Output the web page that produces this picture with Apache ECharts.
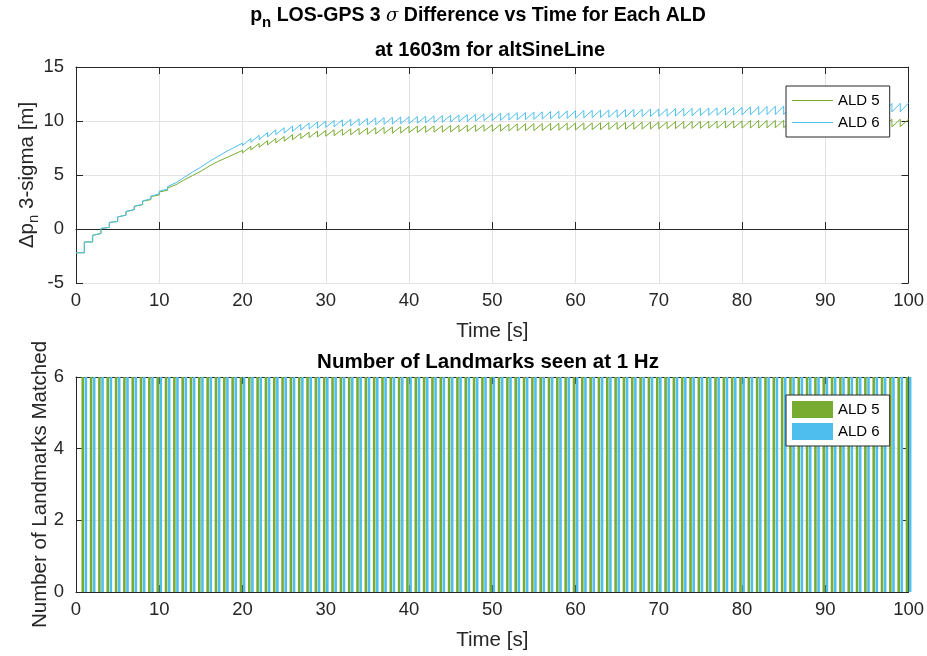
<!DOCTYPE html>
<html>
<head>
<meta charset="utf-8">
<title>pn LOS-GPS 3 sigma Difference vs Time</title>
<script src="https://cdn.jsdelivr.net/npm/echarts@6/dist/echarts.min.js"></script>
<style>
  html, body { margin: 0; padding: 0; background: #fff; }
  #chart { width: 927px; height: 656px; }
</style>
</head>
<body>
<div id="chart"></div>
<script>
// 3-sigma difference per second: value right after the 1 Hz update (low) and just before the next one (high)
var ald5Low = [-2.2,-1.2,-0.58,0.05,0.6,1.12,1.63,2.1,2.57,3.0,
  3.43,3.8,4.25,4.65,5.05,5.38,5.78,6.13,6.48,6.83,
  7.05,7.32,7.57,7.78,7.97,8.13,8.26,8.37,8.46,8.53,
  8.59,8.64,8.68,8.72,8.75,8.78,8.81,8.84,8.87,8.9,
  8.92,8.94,8.95,8.97,8.98,9.0,9.01,9.03,9.04,9.06,
  9.05,9.06,9.08,9.09,9.1,9.11,9.12,9.14,9.15,9.16,
  9.17,9.18,9.19,9.2,9.21,9.22,9.23,9.24,9.25,9.26,
  9.27,9.28,9.29,9.3,9.31,9.32,9.33,9.34,9.35,9.36,
  9.34,9.35,9.35,9.36,9.37,9.38,9.39,9.39,9.4,9.41,
  9.42,9.42,9.43,9.43,9.44,9.45,9.45,9.46,9.46,9.47];
var ald5High = [-2.2,-1.2,-0.42,0.15,0.7,1.28,1.78,2.25,2.72,3.15,
  3.58,4.1,4.55,4.95,5.35,5.83,6.23,6.58,6.93,7.28,
  7.65,7.92,8.17,8.38,8.57,8.73,8.86,8.97,9.06,9.13,
  9.19,9.24,9.28,9.32,9.35,9.38,9.41,9.44,9.47,9.5,
  9.52,9.54,9.55,9.57,9.58,9.6,9.61,9.63,9.64,9.66,
  9.7,9.71,9.73,9.74,9.75,9.76,9.77,9.79,9.8,9.81,
  9.82,9.83,9.84,9.85,9.86,9.87,9.88,9.89,9.9,9.91,
  9.92,9.93,9.94,9.95,9.96,9.97,9.98,9.99,10.0,10.01,
  10.04,10.05,10.05,10.06,10.07,10.08,10.09,10.09,10.1,10.11,
  10.12,10.12,10.13,10.13,10.14,10.15,10.15,10.16,10.16,10.17];
var ald6Low = [-2.2,-1.2,-0.58,0.05,0.6,1.12,1.6,2.1,2.6,3.05,
  3.5,3.93,4.43,4.93,5.38,5.75,6.2,6.65,7.05,7.45,
  7.73,8.03,8.28,8.53,8.73,8.88,9.03,9.16,9.26,9.34,
  9.4,9.46,9.51,9.55,9.59,9.63,9.66,9.69,9.72,9.74,
  9.76,9.79,9.82,9.85,9.88,9.91,9.94,9.97,10.0,10.03,
  10.03,10.05,10.08,10.1,10.13,10.15,10.18,10.2,10.23,10.25,
  10.28,10.29,10.31,10.32,10.34,10.35,10.37,10.38,10.4,10.41,
  10.43,10.44,10.46,10.47,10.49,10.5,10.52,10.53,10.55,10.56,
  10.56,10.57,10.58,10.59,10.6,10.61,10.62,10.63,10.65,10.66,
  10.68,10.7,10.72,10.74,10.76,10.78,10.8,10.82,10.84,10.86];
var ald6High = [-2.2,-1.2,-0.42,0.15,0.7,1.28,1.8,2.3,2.8,3.25,
  3.7,4.28,4.78,5.28,5.73,6.25,6.7,7.15,7.55,7.95,
  8.38,8.68,8.93,9.18,9.38,9.53,9.68,9.81,9.91,9.99,
  10.05,10.11,10.16,10.2,10.24,10.28,10.31,10.34,10.37,10.39,
  10.41,10.44,10.47,10.5,10.53,10.56,10.59,10.62,10.65,10.68,
  10.73,10.75,10.78,10.8,10.83,10.85,10.88,10.9,10.93,10.95,
  10.98,10.99,11.01,11.02,11.04,11.05,11.07,11.08,11.1,11.11,
  11.13,11.14,11.16,11.17,11.19,11.2,11.22,11.23,11.25,11.26,
  11.3,11.32,11.35,11.37,11.39,11.4,11.42,11.43,11.45,11.46,
  11.48,11.5,11.52,11.54,11.56,11.58,11.6,11.62,11.64,11.66];

// landmarks matched at each 1 Hz update
var matchTimes = [1,2,3,4,5,6,7,8,9,10,11,12,13,14,15,16,17,18,19,20,
  21,22,23,24,25,26,27,28,29,30,31,32,33,34,35,36,37,38,39,40,
  41,42,43,44,45,46,47,48,49,50,51,52,53,54,55,56,57,58,59,60,
  61,62,63,64,65,66,67,68,69,70,71,72,73,74,75,76,77,78,79,80,
  81,82,83,84,85,86,87,88,89,90,91,92,93,94,95,96,97,98,99,100];
var ald5Matched = [6,6,6,6,6,6,6,6,6,6,6,6,6,6,6,6,6,6,6,6,
  6,6,6,6,6,6,6,6,6,6,6,6,6,6,6,6,6,6,6,6,
  6,6,6,6,6,6,6,6,6,6,6,6,6,6,6,6,6,6,6,6,
  6,6,6,6,6,6,6,6,6,6,6,6,6,6,6,6,6,6,6,6,
  6,6,6,6,6,6,6,6,6,6,6,6,6,6,6,6,6,6,6,6];
var ald6Matched = [6,6,6,6,6,6,6,6,6,6,6,6,6,6,6,6,6,6,6,6,
  6,6,6,6,6,6,6,6,6,6,6,6,6,6,6,6,6,6,6,6,
  6,6,6,6,6,6,6,6,6,6,6,6,6,6,6,6,6,6,6,6,
  6,6,6,6,6,6,6,6,6,6,6,6,6,6,6,6,6,6,6,6,
  6,6,6,6,6,6,6,6,6,6,6,6,6,6,6,6,6,6,6,6];

var green = '#77AC30';
var blue = '#4DBEEE';
var ink = '#262626';
var font = '"Liberation Sans", Arial, Helvetica, sans-serif';
var lineIcon = 'path://M0,0h41v1h-41z';

// each second: ramp from low to high, then jump at the next update
function sawtooth(low, high) {
  var pts = [];
  for (var i = 0; i < low.length; i++) {
    pts.push([i, low[i]], [i + 1, high[i]]);
  }
  return pts;
}

function pairs(xs, ys) {
  return xs.map(function (x, i) { return [x, ys[i]]; });
}

function mainX(grid, name) {
  return {
    gridIndex: grid, type: 'value', min: 0, max: 100, interval: 10, position: 'bottom',
    axisLine: { show: true, lineStyle: { color: ink, width: 1 } },
    axisTick: { inside: true, length: 7, lineStyle: { color: ink } },
    axisLabel: { fontSize: 18.5, color: ink, margin: 8, fontFamily: font },
    splitLine: { show: true, lineStyle: { color: '#e3e3e3' } },
    name: name, nameLocation: 'middle', nameGap: 38,
    nameTextStyle: { fontSize: 20.5, color: ink, fontFamily: font }
  };
}
function mirrorX(grid) {
  return {
    gridIndex: grid, type: 'value', min: 0, max: 100, interval: 10, position: 'top',
    axisLine: { show: true, onZero: false, lineStyle: { color: ink } },
    axisTick: { inside: true, length: 7, lineStyle: { color: ink } },
    axisLabel: { show: false }, splitLine: { show: false }
  };
}
function mirrorY(grid, min, max, step) {
  return {
    gridIndex: grid, type: 'value', min: min, max: max, interval: step, position: 'right',
    axisLine: { show: true, onZero: false, lineStyle: { color: ink } },
    axisTick: { inside: true, length: 7, lineStyle: { color: ink } },
    axisLabel: { show: false }, splitLine: { show: false }
  };
}

var chart = echarts.init(document.getElementById('chart'));
chart.setOption({
  animation: false,
  backgroundColor: '#fff',
  textStyle: { fontFamily: font },
  graphic: [
    {
      type: 'text', x: 478, y: 16,
      style: {
        text: '{b|p}{sub|n}{b| LOS-GPS 3 }{sig|σ}{b| Difference vs Time for Each ALD}',
        align: 'center', verticalAlign: 'middle', fill: '#000',
        rich: {
          b: { fontSize: 19.5, fontWeight: 'bold', fontFamily: font, fill: '#000' },
          sub: { fontSize: 15, fontWeight: 'bold', fontFamily: font, fill: '#000', padding: [14, 0, 0, 0] },
          sig: { fontSize: 18, fontStyle: 'italic', fontFamily: '"DejaVu Serif", serif', fill: '#000' }
        }
      }
    },
    {
      type: 'text', x: 490, y: 50,
      style: { text: 'at 1603m for altSineLine', align: 'center', verticalAlign: 'middle',
        fontSize: 20, fontWeight: 'bold', fontFamily: font, fill: '#000' }
    },
    {
      type: 'text', x: 488, y: 362,
      style: { text: 'Number of Landmarks seen at 1 Hz', align: 'center', verticalAlign: 'middle',
        fontSize: 20.5, fontWeight: 'bold', fontFamily: font, fill: '#000' }
    }
  ],
  grid: [
    { left: 76, top: 67, width: 833, height: 216 },
    { left: 76, top: 377, width: 833, height: 215 }
  ],
  legend: [
    {
      left: 786, top: 86, orient: 'vertical',
      data: [{ name: 'ALD 5', icon: lineIcon }, { name: 'ALD 6', icon: lineIcon }],
      itemWidth: 41, itemHeight: 14, itemGap: 7,
      padding: [7, 10, 7, 6],
      backgroundColor: '#fff', borderColor: ink, borderWidth: 1, borderRadius: 0,
      textStyle: { fontSize: 15, color: '#000', fontFamily: font }
    },
    {
      left: 786, top: 395, orient: 'vertical',
      data: [{ name: 'ALD 5', icon: 'rect' }, { name: 'ALD 6', icon: 'rect' }],
      itemWidth: 41, itemHeight: 17, itemGap: 5,
      padding: [6, 10, 6, 6],
      backgroundColor: '#fff', borderColor: ink, borderWidth: 1, borderRadius: 0,
      textStyle: { fontSize: 15, color: '#000', fontFamily: font }
    }
  ],
  xAxis: [mainX(0, 'Time [s]'), mirrorX(0), mainX(1, 'Time [s]'), mirrorX(1)],
  yAxis: [
    {
      gridIndex: 0, type: 'value', min: -5, max: 15, interval: 5, position: 'left',
      axisLine: { show: true, onZero: false, lineStyle: { color: ink } },
      axisTick: { inside: true, length: 7, lineStyle: { color: ink } },
      axisLabel: { fontSize: 18.5, color: ink, margin: 12, fontFamily: font },
      splitLine: { show: true, lineStyle: { color: '#e3e3e3' } },
      name: '{a|Δp}{s|n}{a| 3-sigma [m]}', nameLocation: 'middle', nameGap: 35,
      nameMoveOverlap: false,
      nameTextStyle: {
        color: ink, fontFamily: font,
        rich: {
          a: { fontSize: 20.5, color: ink, fontFamily: font },
          s: { fontSize: 15, color: ink, fontFamily: font, padding: [13, 0, 0, 0] }
        }
      }
    },
    mirrorY(0, -5, 15, 5),
    {
      gridIndex: 1, type: 'value', min: 0, max: 6, interval: 2, position: 'left',
      axisLine: { show: true, onZero: false, lineStyle: { color: ink } },
      axisTick: { inside: true, length: 7, lineStyle: { color: ink } },
      axisLabel: { fontSize: 18.5, color: ink, margin: 12, fontFamily: font },
      splitLine: { show: true, lineStyle: { color: '#e3e3e3' } },
      name: 'Number of Landmarks Matched', nameLocation: 'middle', nameGap: 25,
      nameMoveOverlap: false,
      nameTextStyle: { fontSize: 20.5, color: ink, fontFamily: font }
    },
    mirrorY(1, 0, 6, 2)
  ],
  series: [
    {
      name: 'ALD 5', type: 'line', xAxisIndex: 0, yAxisIndex: 0,
      data: sawtooth(ald5Low, ald5High), showSymbol: false, symbol: 'none',
      color: green, lineStyle: { color: green, width: 1 }
    },
    {
      name: 'ALD 6', type: 'line', xAxisIndex: 0, yAxisIndex: 0,
      data: sawtooth(ald6Low, ald6High), showSymbol: false, symbol: 'none',
      color: blue, lineStyle: { color: blue, width: 1 }
    },
    {
      name: 'ALD 5', type: 'bar', xAxisIndex: 2, yAxisIndex: 2, clip: true,
      data: pairs(matchTimes, ald5Matched), barWidth: 2.6, barGap: '20%',
      itemStyle: { color: green }
    },
    {
      name: 'ALD 6', type: 'bar', xAxisIndex: 2, yAxisIndex: 2, clip: true,
      data: pairs(matchTimes, ald6Matched), barWidth: 2.6, barGap: '20%',
      itemStyle: { color: blue }
    }
  ]
});
</script>
</body>
</html>
